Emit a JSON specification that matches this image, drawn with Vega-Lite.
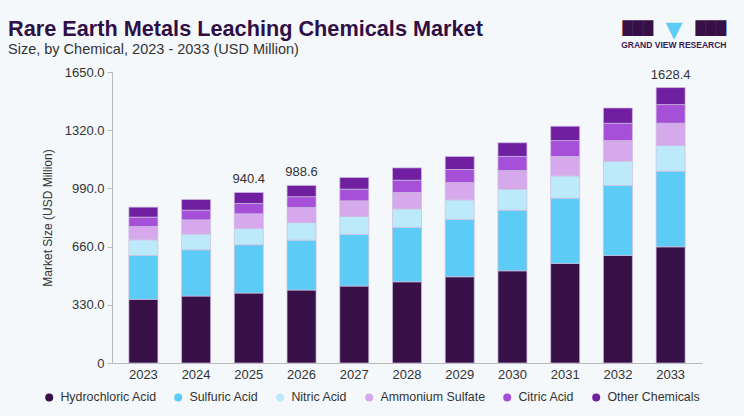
{
  "$schema": "https://vega.github.io/schema/vega-lite/v6.json",
  "background": "#f4f8fb",
  "autosize": {"type": "none"},
  "padding": {"left": 112, "top": 72, "right": 42, "bottom": 53},
  "width": 590,
  "height": 291,
  "title": {
    "text": "Rare Earth Metals Leaching Chemicals Market",
    "subtitle": "Size, by Chemical, 2023 - 2033 (USD Million)",
    "anchor": "start",
    "frame": "group",
    "dx": -104,
    "font": "Liberation Sans",
    "fontWeight": "bold",
    "fontSize": 21.7,
    "color": "#2f0f45",
    "subtitleFont": "Liberation Sans",
    "subtitleFontSize": 14.5,
    "subtitleColor": "#333333",
    "subtitlePadding": 2,
    "offset": -38
  },
  "datasets": {
    "market": [
      {"Year": "2023", "Chemical": "Hydrochloric Acid", "Value": 360.8},
      {"Year": "2023", "Chemical": "Sulfuric Acid", "Value": 249.2},
      {"Year": "2023", "Chemical": "Nitric Acid", "Value": 88.4},
      {"Year": "2023", "Chemical": "Ammonium Sulfate", "Value": 75.9},
      {"Year": "2023", "Chemical": "Citric Acid", "Value": 52.7},
      {"Year": "2023", "Chemical": "Other Chemicals", "Value": 56.6},
      {"Year": "2024", "Chemical": "Hydrochloric Acid", "Value": 379.5},
      {"Year": "2024", "Chemical": "Sulfuric Acid", "Value": 262.2},
      {"Year": "2024", "Chemical": "Nitric Acid", "Value": 88.9},
      {"Year": "2024", "Chemical": "Ammonium Sulfate", "Value": 81.0},
      {"Year": "2024", "Chemical": "Citric Acid", "Value": 54.9},
      {"Year": "2024", "Chemical": "Other Chemicals", "Value": 60.6},
      {"Year": "2025", "Chemical": "Hydrochloric Acid", "Value": 396.5},
      {"Year": "2025", "Chemical": "Sulfuric Acid", "Value": 273.6},
      {"Year": "2025", "Chemical": "Nitric Acid", "Value": 92.9},
      {"Year": "2025", "Chemical": "Ammonium Sulfate", "Value": 82.7},
      {"Year": "2025", "Chemical": "Citric Acid", "Value": 58.9},
      {"Year": "2025", "Chemical": "Other Chemicals", "Value": 62.3},
      {"Year": "2026", "Chemical": "Hydrochloric Acid", "Value": 413.5},
      {"Year": "2026", "Chemical": "Sulfuric Acid", "Value": 283.2},
      {"Year": "2026", "Chemical": "Nitric Acid", "Value": 99.1},
      {"Year": "2026", "Chemical": "Ammonium Sulfate", "Value": 86.1},
      {"Year": "2026", "Chemical": "Citric Acid", "Value": 61.2},
      {"Year": "2026", "Chemical": "Other Chemicals", "Value": 64.0},
      {"Year": "2027", "Chemical": "Hydrochloric Acid", "Value": 436.1},
      {"Year": "2027", "Chemical": "Sulfuric Acid", "Value": 292.8},
      {"Year": "2027", "Chemical": "Nitric Acid", "Value": 102.0},
      {"Year": "2027", "Chemical": "Ammonium Sulfate", "Value": 88.4},
      {"Year": "2027", "Chemical": "Citric Acid", "Value": 66.3},
      {"Year": "2027", "Chemical": "Other Chemicals", "Value": 66.3},
      {"Year": "2028", "Chemical": "Hydrochloric Acid", "Value": 460.5},
      {"Year": "2028", "Chemical": "Sulfuric Acid", "Value": 308.1},
      {"Year": "2028", "Chemical": "Nitric Acid", "Value": 105.4},
      {"Year": "2028", "Chemical": "Ammonium Sulfate", "Value": 92.9},
      {"Year": "2028", "Chemical": "Citric Acid", "Value": 69.7},
      {"Year": "2028", "Chemical": "Other Chemicals", "Value": 69.7},
      {"Year": "2029", "Chemical": "Hydrochloric Acid", "Value": 488.8},
      {"Year": "2029", "Chemical": "Sulfuric Acid", "Value": 325.1},
      {"Year": "2029", "Chemical": "Nitric Acid", "Value": 111.0},
      {"Year": "2029", "Chemical": "Ammonium Sulfate", "Value": 98.6},
      {"Year": "2029", "Chemical": "Citric Acid", "Value": 73.6},
      {"Year": "2029", "Chemical": "Other Chemicals", "Value": 73.6},
      {"Year": "2030", "Chemical": "Hydrochloric Acid", "Value": 522.8},
      {"Year": "2030", "Chemical": "Sulfuric Acid", "Value": 343.8},
      {"Year": "2030", "Chemical": "Nitric Acid", "Value": 118.9},
      {"Year": "2030", "Chemical": "Ammonium Sulfate", "Value": 105.9},
      {"Year": "2030", "Chemical": "Citric Acid", "Value": 79.9},
      {"Year": "2030", "Chemical": "Other Chemicals", "Value": 77.6},
      {"Year": "2031", "Chemical": "Hydrochloric Acid", "Value": 564.7},
      {"Year": "2031", "Chemical": "Sulfuric Acid", "Value": 369.9},
      {"Year": "2031", "Chemical": "Nitric Acid", "Value": 126.3},
      {"Year": "2031", "Chemical": "Ammonium Sulfate", "Value": 109.9},
      {"Year": "2031", "Chemical": "Citric Acid", "Value": 90.6},
      {"Year": "2031", "Chemical": "Other Chemicals", "Value": 81.0},
      {"Year": "2032", "Chemical": "Hydrochloric Acid", "Value": 610.0},
      {"Year": "2032", "Chemical": "Sulfuric Acid", "Value": 396.5},
      {"Year": "2032", "Chemical": "Nitric Acid", "Value": 137.6},
      {"Year": "2032", "Chemical": "Ammonium Sulfate", "Value": 117.2},
      {"Year": "2032", "Chemical": "Citric Acid", "Value": 98.0},
      {"Year": "2032", "Chemical": "Other Chemicals", "Value": 86.7},
      {"Year": "2033", "Chemical": "Hydrochloric Acid", "Value": 658.7},
      {"Year": "2033", "Chemical": "Sulfuric Acid", "Value": 428.8},
      {"Year": "2033", "Chemical": "Nitric Acid", "Value": 145.6},
      {"Year": "2033", "Chemical": "Ammonium Sulfate", "Value": 126.3},
      {"Year": "2033", "Chemical": "Citric Acid", "Value": 105.9},
      {"Year": "2033", "Chemical": "Other Chemicals", "Value": 96.3}
    ],
    "chemicals": [
      {"Chemical": "Hydrochloric Acid", "Order": 1},
      {"Chemical": "Sulfuric Acid", "Order": 2},
      {"Chemical": "Nitric Acid", "Order": 3},
      {"Chemical": "Ammonium Sulfate", "Order": 4},
      {"Chemical": "Citric Acid", "Order": 5},
      {"Chemical": "Other Chemicals", "Order": 6}
    ],
    "labels": [
      {"Year": "2025", "Label": "940.4"},
      {"Year": "2026", "Label": "988.6"},
      {"Year": "2033", "Label": "1628.4"}
    ]
  },
  "layer": [
    {
      "data": {"name": "market"},
      "transform": [
        {"lookup": "Chemical", "from": {"data": {"name": "chemicals"}, "key": "Chemical", "fields": ["Order"]}}
      ],
      "mark": {"type": "bar", "stroke": "#cdbde0", "strokeWidth": 0.7},
      "encoding": {
        "x": {
          "field": "Year",
          "type": "ordinal",
          "scale": {"paddingInner": 0.45, "paddingOuter": 0.32},
          "axis": {
            "labelAngle": 0,
            "ticks": false,
            "labelPadding": 5,
            "title": "███\u00a0\u00a0\u00a0\u00a0\u00a0\u00a0\u00a0\u00a0\u00a0\u00a0███",
            "titleFont": "DejaVu Sans",
            "titleFontSize": 13.3,
            "titleColor": "#381048",
            "titleX": 510,
            "titleY": -331,
            "titleAlign": "left",
            "titleBaseline": "alphabetic"
          }
        },
        "y": {
          "aggregate": "sum",
          "field": "Value",
          "type": "quantitative",
          "title": "Market Size (USD Million)",
          "scale": {"domain": [0, 1650], "nice": false},
          "axis": {
            "values": [0, 330, 660, 990, 1320, 1650],
            "labelExpr": "datum.value == 0 ? '0' : format(datum.value, '.1f')",
            "tickSize": 5,
            "labelPadding": 3,
            "titlePadding": 10
          }
        },
        "order": {"field": "Order", "type": "quantitative", "sort": "ascending"},
        "color": {
          "field": "Chemical",
          "type": "nominal",
          "sort": ["Hydrochloric Acid", "Sulfuric Acid", "Nitric Acid", "Ammonium Sulfate", "Citric Acid", "Other Chemicals"],
          "scale": {
            "domain": ["Hydrochloric Acid", "Sulfuric Acid", "Nitric Acid", "Ammonium Sulfate", "Citric Acid", "Other Chemicals"],
            "range": ["#381048", "#5ccbf6", "#bdeafa", "#d6a9ec", "#a64fd8", "#701fa0"]
          },
          "legend": {
            "orient": "none",
            "legendX": -69,
            "legendY": 319,
            "direction": "horizontal",
            "columns": 6,
            "title": null,
            "symbolType": "circle",
            "symbolSize": 64,
            "symbolStrokeWidth": 0,
            "labelOffset": 5,
            "columnPadding": 15,
            "labelFont": "Liberation Sans",
            "labelFontSize": 12.4,
            "labelColor": "#333333"
          }
        }
      }
    },
    {
      "data": {"name": "market"},
      "transform": [
        {"aggregate": [{"op": "sum", "field": "Value", "as": "Total"}], "groupby": ["Year"]},
        {"lookup": "Year", "from": {"data": {"name": "labels"}, "key": "Year", "fields": ["Label"]}},
        {"filter": "datum.Label != null"}
      ],
      "mark": {"type": "text", "baseline": "bottom", "dy": -6, "font": "Liberation Sans", "fontSize": 13, "color": "#333333"},
      "encoding": {
        "x": {
          "field": "Year",
          "type": "ordinal",
          "axis": {
            "orient": "top",
            "labels": false,
            "ticks": false,
            "domain": false,
            "title": "▼",
            "titleFont": "DejaVu Sans",
            "titleFontSize": 22,
            "titleColor": "#5ccbf6",
            "titleX": 561.5,
            "titleY": -36,
            "titleAlign": "center",
            "titleBaseline": "alphabetic"
          }
        },
        "y": {
          "field": "Total",
          "type": "quantitative",
          "axis": {
            "orient": "right",
            "labels": false,
            "ticks": false,
            "domain": false,
            "title": "GRAND VIEW RESEARCH",
            "titleAngle": 0,
            "titleX": 24,
            "titleY": -25,
            "titleAlign": "right",
            "titleBaseline": "alphabetic",
            "titleFont": "Liberation Sans",
            "titleFontSize": 8.5,
            "titleFontWeight": "bold",
            "titleColor": "#3a1a52"
          }
        },
        "text": {"field": "Label"}
      }
    }
  ],
  "resolve": {"axis": {"x": "independent", "y": "independent"}},
  "config": {
    "view": {"stroke": null},
    "axis": {
      "grid": false,
      "domainColor": "#b9b9b9",
      "tickColor": "#b9b9b9",
      "labelFont": "Liberation Sans",
      "labelFontSize": 13,
      "labelColor": "#333333",
      "titleFont": "Liberation Sans",
      "titleFontSize": 12,
      "titleFontWeight": "normal",
      "titleColor": "#333333"
    }
  }
}
